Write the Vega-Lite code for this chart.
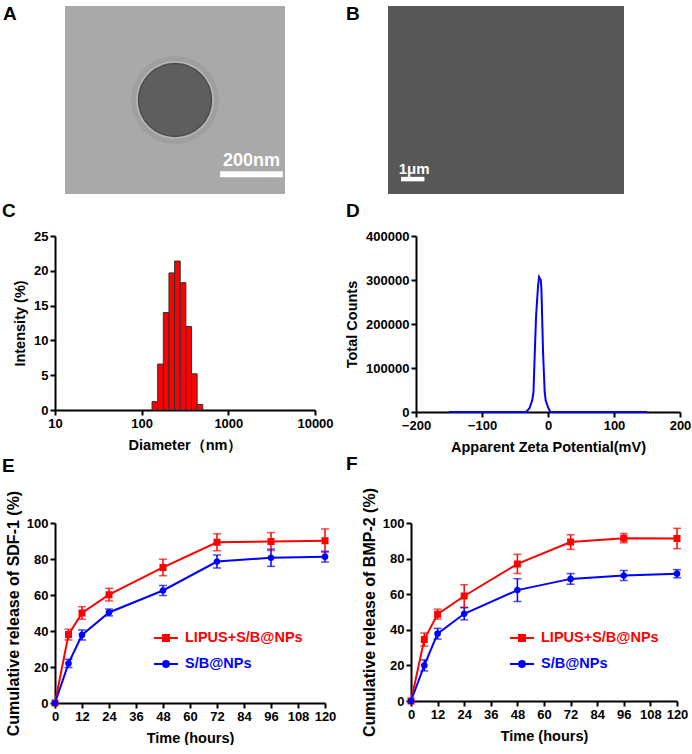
{
  "$schema": "https://vega.github.io/schema/vega-lite/v6.json",
  "padding": {"left": 2, "top": 5, "right": 0, "bottom": 0},
  "config": {
    "font": "Liberation Sans",
    "view": {"stroke": null},
    "axis": {
      "grid": false, "domainColor": "#000", "domainWidth": 2, "tickColor": "#000", "tickWidth": 2, "tickSize": 5,
      "labelFont": "Liberation Sans", "labelFontSize": 13, "labelFontWeight": "bold", "labelColor": "#000", "labelPadding": 2,
      "labelFlush": false, "labelOverlap": false,
      "titleFont": "Liberation Sans", "titleFontSize": 14.5, "titleFontWeight": "bold", "titleColor": "#000"
    },
    "title": {"font": "Liberation Sans", "fontSize": 19, "fontWeight": "bold", "color": "#000", "anchor": "start", "frame": "group"}
  },
  "resolve": {"legend": {"color": "independent", "shape": "independent"}},
  "spacing": 8,
  "vconcat": [
    {
      "hconcat": [
        {
          "width": 230, "height": 188,
          "title": {"text": "A", "dx": -52, "offset": -18},
          "data": {"values": [{"cx": 351, "cy": 300, "bar0": 495, "bar1": 695, "bary": 63, "tx": 595, "ty": 105, "label": "200nm"}]},
          "encoding": {
            "x": {"field": "cx", "type": "quantitative", "scale": {"domain": [-32, 702], "nice": false}, "axis": null},
            "y": {"field": "cy", "type": "quantitative", "scale": {"domain": [0, 600], "nice": false}, "axis": null}
          },
          "layer": [
            {"mark": {"type": "rect", "color": "#a9a9a9"},
             "encoding": {"x": {"datum": 0, "type": "quantitative"}, "x2": {"datum": 702}, "y": {"datum": 0, "type": "quantitative"}, "y2": {"datum": 600}}},
            {"mark": {"type": "point", "shape": "circle", "filled": true, "size": 7744, "color": "#9a9a9a", "opacity": 0.6}},
            {"mark": {"type": "point", "shape": "circle", "filled": true, "size": 6084, "color": "#b6b6b6", "opacity": 1}},
            {"mark": {"type": "point", "shape": "circle", "filled": true, "size": 5329, "color": "#5e5e5e", "stroke": "#4c4c4c", "strokeWidth": 1.5, "opacity": 1}},
            {"mark": {"type": "rule", "color": "#ffffff", "strokeWidth": 6},
             "encoding": {"x": {"field": "bar0", "type": "quantitative"}, "x2": {"field": "bar1"}, "y": {"field": "bary", "type": "quantitative"}}},
            {"mark": {"type": "text", "color": "#ffffff", "fontSize": 18, "fontWeight": "bold", "baseline": "middle"},
             "encoding": {"x": {"field": "tx", "type": "quantitative"}, "y": {"field": "ty", "type": "quantitative"}, "text": {"field": "label"}}}
          ]
        },
        {
          "width": 236, "height": 188,
          "title": {"text": "B", "dx": -42, "offset": -18},
          "view": {"fill": "#575757"},
          "data": {"values": [{"bar0": 0.56, "bar1": 1.56, "bary": 0.64, "tx": 1.12, "ty": 1.07, "label": "1μm"}]},
          "encoding": {
            "x": {"field": "bar0", "type": "quantitative", "scale": {"domain": [0, 10.1], "nice": false}, "axis": null},
            "y": {"field": "bary", "type": "quantitative", "scale": {"domain": [0, 8.07], "nice": false}, "axis": null}
          },
          "layer": [
            {"mark": {"type": "rule", "color": "#ffffff", "strokeWidth": 4.5},
             "encoding": {"x2": {"field": "bar1"}}},
            {"mark": {"type": "text", "color": "#ffffff", "fontSize": 15, "fontWeight": "bold", "baseline": "middle"},
             "encoding": {"x": {"field": "tx", "type": "quantitative"}, "y": {"field": "ty", "type": "quantitative"}, "text": {"field": "label"}}}
          ]
        }
      ],
      "spacing": 103,
      "bounds": "flush"
    },
    {
      "spacing": 0,
      "resolve": {"legend": {"color": "independent", "shape": "independent"}},
      "vconcat": [
        {
          "hconcat": [
            {
              "width": 260, "height": 174,
              "title": {"text": "C", "dx": -53, "offset": 9},
              "data": {"values": [
                {"d0": 131.8, "d1": 153.1, "intensity": 1.2},
                {"d0": 153.1, "d1": 177.8, "intensity": 6.6},
                {"d0": 177.8, "d1": 206.5, "intensity": 14.0},
                {"d0": 206.5, "d1": 239.9, "intensity": 19.7},
                {"d0": 239.9, "d1": 278.6, "intensity": 21.4},
                {"d0": 278.6, "d1": 323.6, "intensity": 18.3},
                {"d0": 323.6, "d1": 375.8, "intensity": 12.0},
                {"d0": 375.8, "d1": 436.5, "intensity": 5.2},
                {"d0": 436.5, "d1": 507.0, "intensity": 0.8}
              ]},
              "mark": {"type": "rect", "color": "#ff0000", "stroke": "#333333", "strokeWidth": 1},
              "encoding": {
                "x": {"field": "d0", "type": "quantitative", "scale": {"type": "log", "domain": [10, 10000], "nice": false},
                      "axis": {"values": [10, 100, 1000, 10000], "format": "d", "title": "Diameter（nm）", "titlePadding": 8}},
                "x2": {"field": "d1"},
                "y": {"field": "intensity", "type": "quantitative", "scale": {"domain": [0, 25], "nice": false},
                      "axis": {"values": [0, 5, 10, 15, 20, 25], "title": "Intensity (%)", "titlePadding": 6}},
                "y2": {"datum": 0}
              }
            },
            {
              "width": 264, "height": 176,
              "title": {"text": "D", "dx": -70, "offset": 9},
              "data": {"values": [
                {"mv": -150, "counts": 0},
                {"mv": -33, "counts": 0},
                {"mv": -28, "counts": 9000},
                {"mv": -24, "counts": 26000},
                {"mv": -22, "counts": 45000},
                {"mv": -20, "counts": 136000},
                {"mv": -18, "counts": 220000},
                {"mv": -15, "counts": 288000},
                {"mv": -13.5, "counts": 307000},
                {"mv": -11, "counts": 300000},
                {"mv": -10, "counts": 280000},
                {"mv": -7.5, "counts": 136000},
                {"mv": -5, "counts": 45000},
                {"mv": -3.5, "counts": 26000},
                {"mv": 0, "counts": 11000},
                {"mv": 3.5, "counts": 0},
                {"mv": 150, "counts": 0}
              ]},
              "mark": {"type": "line", "color": "#0000ff", "strokeWidth": 2},
              "encoding": {
                "x": {"field": "mv", "type": "quantitative", "scale": {"domain": [-200, 200], "nice": false},
                      "axis": {"values": [-200, -100, 0, 100, 200], "title": "Apparent Zeta Potential(mV)", "titlePadding": 8}},
                "y": {"field": "counts", "type": "quantitative", "scale": {"domain": [0, 400000], "nice": false},
                      "axis": {"values": [0, 100000, 200000, 300000, 400000], "format": "d", "title": "Total Counts", "titlePadding": 6}}
              }
            }
          ],
          "spacing": 101,
          "bounds": "flush"
        },
        {
          "resolve": {"legend": {"color": "independent", "shape": "independent"}},
          "hconcat": [
            {
              "width": 270, "height": 180,
              "title": {"text": "E", "dx": -53, "offset": 14},
              "data": {"values": [
                {"t": 0, "group": "LIPUS+S/B@NPs", "mean": 0, "sd": 0},
                {"t": 6, "group": "LIPUS+S/B@NPs", "mean": 38, "sd": 3},
                {"t": 12, "group": "LIPUS+S/B@NPs", "mean": 50, "sd": 3.5},
                {"t": 24, "group": "LIPUS+S/B@NPs", "mean": 60.2, "sd": 3.5},
                {"t": 48, "group": "LIPUS+S/B@NPs", "mean": 75.3, "sd": 4.6},
                {"t": 72, "group": "LIPUS+S/B@NPs", "mean": 89.3, "sd": 4.7},
                {"t": 96, "group": "LIPUS+S/B@NPs", "mean": 89.7, "sd": 5},
                {"t": 120, "group": "LIPUS+S/B@NPs", "mean": 90.2, "sd": 6.5},
                {"t": 0, "group": "S/B@NPs", "mean": 0, "sd": 0},
                {"t": 6, "group": "S/B@NPs", "mean": 22, "sd": 2.3},
                {"t": 12, "group": "S/B@NPs", "mean": 37.8, "sd": 2.8},
                {"t": 24, "group": "S/B@NPs", "mean": 50.3, "sd": 1.9},
                {"t": 48, "group": "S/B@NPs", "mean": 62.5, "sd": 2.8},
                {"t": 72, "group": "S/B@NPs", "mean": 78.6, "sd": 3.6},
                {"t": 96, "group": "S/B@NPs", "mean": 80.7, "sd": 4.8},
                {"t": 120, "group": "S/B@NPs", "mean": 81.3, "sd": 3}
              ]},
              "encoding": {
                "x": {"field": "t", "type": "quantitative", "scale": {"domain": [0, 120], "nice": false},
                      "axis": {"values": [0, 12, 24, 36, 48, 60, 72, 84, 96, 108, 120], "title": "Time (hours)", "titlePadding": 8}},
                "y": {"field": "mean", "type": "quantitative", "scale": {"domain": [0, 100], "nice": false},
                      "axis": {"values": [0, 20, 40, 60, 80, 100], "title": "Cumulative release of SDF-1 (%)", "titleFontSize": 16, "titlePadding": 5}},
                "color": {"field": "group", "type": "nominal", "scale": {"domain": ["LIPUS+S/B@NPs", "S/B@NPs"], "range": ["#ff0000", "#0000ff"]},
                          "legend": {"orient": "none", "legendX": 98, "legendY": 102, "title": null, "labelFont": "Liberation Sans", "labelFontSize": 14.5, "labelFontWeight": "bold", "symbolSize": 576, "labelOffset": 6, "rowPadding": 6,
                                     "encode": {
                                       "labels": {"update": {"fill": [{"test": "datum.value === 'S/B@NPs'", "value": "#0000ff"}, {"value": "#ff0000"}]}},
                                       "symbols": {"update": {"fill": [{"test": "datum.value === 'S/B@NPs'", "value": "#0000ff"}, {"value": "#ff0000"}],
                                                              "stroke": [{"test": "datum.value === 'S/B@NPs'", "value": "#0000ff"}, {"value": "#ff0000"}],
                                                              "strokeWidth": {"value": 2}, "opacity": {"value": 1}}}}}}
              },
              "layer": [
                {"transform": [{"filter": "datum.sd > 0"}],
                 "mark": {"type": "errorbar", "ticks": {"size": 8}, "thickness": 1.5},
                 "encoding": {"yError": {"field": "sd"}}},
                {"mark": {"type": "line", "strokeWidth": 2}},
                {"mark": {"type": "point", "filled": true, "size": 784, "opacity": 1},
                 "encoding": {
                   "shape": {"field": "group", "type": "nominal",
                             "scale": {"domain": ["LIPUS+S/B@NPs", "S/B@NPs"], "range": ["M-1,0H1M-0.25,-0.25H0.25V0.25H-0.25Z", "M-1,0H1M0.24,0A0.24,0.24,0,1,1,-0.24,0A0.24,0.24,0,1,1,0.24,0Z"]},
                             "legend": {"orient": "none", "legendX": 98, "legendY": 102, "title": null, "labelFont": "Liberation Sans", "labelFontSize": 14.5, "labelFontWeight": "bold", "symbolSize": 576, "labelOffset": 6, "rowPadding": 6,
                                        "encode": {
                                          "labels": {"update": {"fill": [{"test": "datum.value === 'S/B@NPs'", "value": "#0000ff"}, {"value": "#ff0000"}]}},
                                          "symbols": {"update": {"fill": [{"test": "datum.value === 'S/B@NPs'", "value": "#0000ff"}, {"value": "#ff0000"}],
                                                                 "stroke": [{"test": "datum.value === 'S/B@NPs'", "value": "#0000ff"}, {"value": "#ff0000"}],
                                                                 "strokeWidth": {"value": 2}, "opacity": {"value": 1}}}}}}
                 }}
              ]
            },
            {
              "width": 266, "height": 178,
              "title": {"text": "F", "dx": -65, "offset": 14},
              "data": {"values": [
                {"t": 0, "group": "LIPUS+S/B@NPs", "mean": 0, "sd": 0},
                {"t": 6, "group": "LIPUS+S/B@NPs", "mean": 34.5, "sd": 3.7},
                {"t": 12, "group": "LIPUS+S/B@NPs", "mean": 48.8, "sd": 2.8},
                {"t": 24, "group": "LIPUS+S/B@NPs", "mean": 59, "sd": 6.3},
                {"t": 48, "group": "LIPUS+S/B@NPs", "mean": 77, "sd": 5.4},
                {"t": 72, "group": "LIPUS+S/B@NPs", "mean": 89.3, "sd": 4.1},
                {"t": 96, "group": "LIPUS+S/B@NPs", "mean": 91.5, "sd": 2.6},
                {"t": 120, "group": "LIPUS+S/B@NPs", "mean": 91.3, "sd": 5.7},
                {"t": 0, "group": "S/B@NPs", "mean": 0, "sd": 0},
                {"t": 6, "group": "S/B@NPs", "mean": 20, "sd": 3.1},
                {"t": 12, "group": "S/B@NPs", "mean": 37.8, "sd": 3},
                {"t": 24, "group": "S/B@NPs", "mean": 49, "sd": 3.4},
                {"t": 48, "group": "S/B@NPs", "mean": 62.3, "sd": 6.4},
                {"t": 72, "group": "S/B@NPs", "mean": 68.6, "sd": 3},
                {"t": 96, "group": "S/B@NPs", "mean": 70.5, "sd": 2.8},
                {"t": 120, "group": "S/B@NPs", "mean": 71.5, "sd": 2.3}
              ]},
              "encoding": {
                "x": {"field": "t", "type": "quantitative", "scale": {"domain": [0, 120], "nice": false},
                      "axis": {"values": [0, 12, 24, 36, 48, 60, 72, 84, 96, 108, 120], "title": "Time (hours)", "titlePadding": 8}},
                "y": {"field": "mean", "type": "quantitative", "scale": {"domain": [0, 100], "nice": false},
                      "axis": {"values": [0, 20, 40, 60, 80, 100], "title": "Cumulative release of BMP-2 (%)", "titleFontSize": 16, "titlePadding": 5}},
                "color": {"field": "group", "type": "nominal", "scale": {"domain": ["LIPUS+S/B@NPs", "S/B@NPs"], "range": ["#ff0000", "#0000ff"]},
                          "legend": {"orient": "none", "legendX": 98, "legendY": 102, "title": null, "labelFont": "Liberation Sans", "labelFontSize": 14.5, "labelFontWeight": "bold", "symbolSize": 576, "labelOffset": 6, "rowPadding": 6,
                                     "encode": {
                                       "labels": {"update": {"fill": [{"test": "datum.value === 'S/B@NPs'", "value": "#0000ff"}, {"value": "#ff0000"}]}},
                                       "symbols": {"update": {"fill": [{"test": "datum.value === 'S/B@NPs'", "value": "#0000ff"}, {"value": "#ff0000"}],
                                                              "stroke": [{"test": "datum.value === 'S/B@NPs'", "value": "#0000ff"}, {"value": "#ff0000"}],
                                                              "strokeWidth": {"value": 2}, "opacity": {"value": 1}}}}}}
              },
              "layer": [
                {"transform": [{"filter": "datum.sd > 0"}],
                 "mark": {"type": "errorbar", "ticks": {"size": 8}, "thickness": 1.5},
                 "encoding": {"yError": {"field": "sd"}}},
                {"mark": {"type": "line", "strokeWidth": 2}},
                {"mark": {"type": "point", "filled": true, "size": 784, "opacity": 1},
                 "encoding": {
                   "shape": {"field": "group", "type": "nominal",
                             "scale": {"domain": ["LIPUS+S/B@NPs", "S/B@NPs"], "range": ["M-1,0H1M-0.25,-0.25H0.25V0.25H-0.25Z", "M-1,0H1M0.24,0A0.24,0.24,0,1,1,-0.24,0A0.24,0.24,0,1,1,0.24,0Z"]},
                             "legend": {"orient": "none", "legendX": 98, "legendY": 102, "title": null, "labelFont": "Liberation Sans", "labelFontSize": 14.5, "labelFontWeight": "bold", "symbolSize": 576, "labelOffset": 6, "rowPadding": 6,
                                        "encode": {
                                          "labels": {"update": {"fill": [{"test": "datum.value === 'S/B@NPs'", "value": "#0000ff"}, {"value": "#ff0000"}]}},
                                          "symbols": {"update": {"fill": [{"test": "datum.value === 'S/B@NPs'", "value": "#0000ff"}, {"value": "#ff0000"}],
                                                                 "stroke": [{"test": "datum.value === 'S/B@NPs'", "value": "#0000ff"}, {"value": "#ff0000"}],
                                                                 "strokeWidth": {"value": 2}, "opacity": {"value": 1}}}}}}
                 }}
              ]
            }
          ],
          "spacing": 86,
          "bounds": "flush"
        }
      ]
    }
  ]
}
